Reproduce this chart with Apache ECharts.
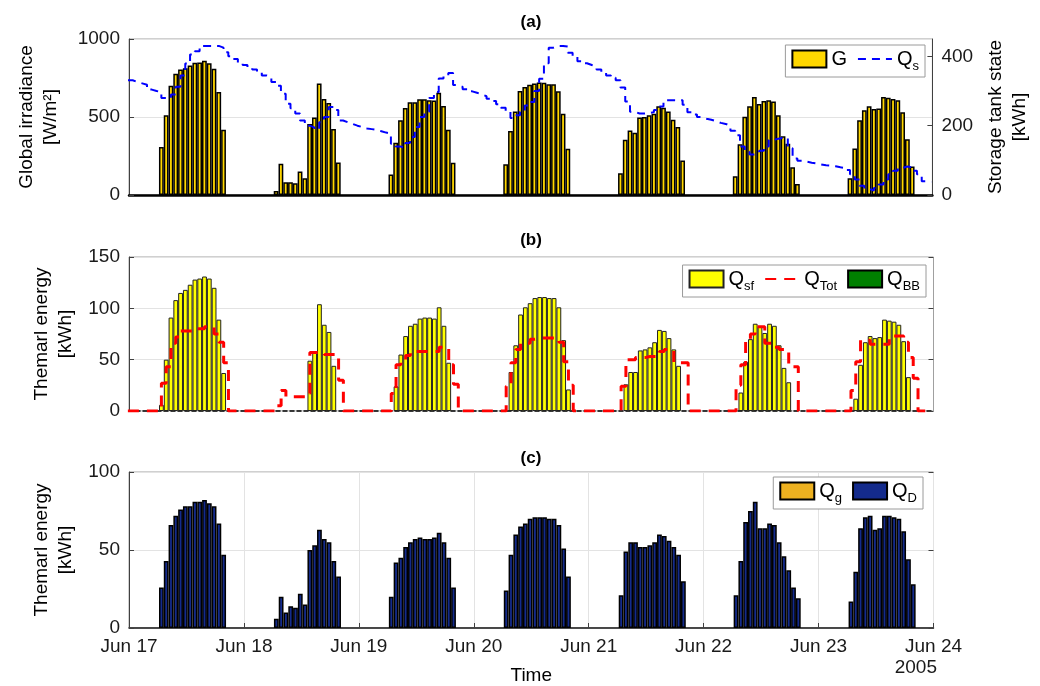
<!DOCTYPE html>
<html>
<head>
<meta charset="utf-8">
<script src="https://cdn.jsdelivr.net/npm/echarts@6/dist/echarts.min.js"></script>
<style>
  html, body { margin: 0; padding: 0; background: #fff; }
  #chart { width: 1040px; height: 686px; }
</style>
</head>
<body>
<div id="chart"></div>
<script>
// hourly values, one row per day (Jun 17 .. Jun 23), hours 0..23
// each value is stamped at hh:46
const dayLabels = ['Jun 17', 'Jun 18', 'Jun 19', 'Jun 20', 'Jun 21', 'Jun 22', 'Jun 23', 'Jun 24'];
const stampMinute = 46;

// (a) global irradiance G [W/m2]
const irradiance = [
  [0,0,0,0,0,0, 307,511,700,777,805,813,830,848,850,861,845,809,661,418, 0,0,0,0],
  [0,0,0,0,0,0, 26,200,82,82,75,150,107,455,496,715,616,590,423,208, 0,0,0,0],
  [0,0,0,0,0,0, 131,335,479,558,594,594,614,614,607,605,655,571,418,206, 0,0,0,0],
  [0,0,0,0,0,0, 197,410,536,667,693,706,715,721,719,710,710,665,521,296, 0,0,0,0],
  [0,0,0,0,0,0, 139,354,414,399,496,500,511,521,569,560,536,483,436,221, 0,0,0,0],
  [0,0,0,0,0,0, 120,326,502,569,629,584,603,607,599,511,376,328,178,71, 0,0,0,0],
  [0,0,0,0,0,0, 107,298,479,543,569,552,554,629,624,616,607,530,358,182, 0,0,0,0]
];

// (a) storage tank state Qs [kWh], stairs, first stamp Jun 16 23:46
const tankState = [
  331, 326, 322, 318, 304, 300, 298, 280, 278, 290,
  312, 345, 379, 405, 415, 430, 430, 430, 430, 425,
  412, 400, 392, 381, 375, 368, 362, 355, 345, 340,
  326, 315, 292, 263, 250, 235, 215, 200, 195, 189,
  210, 225, 254, 245, 215, 210, 205, 200, 196, 192,
  190, 188, 184, 180, 177, 148, 140, 136, 150, 167,
  196, 225, 240, 280, 297, 336, 345, 352, 317, 312,
  305, 299, 295, 290, 285, 278, 271, 262, 252, 240,
  222, 230, 240, 258, 268, 300, 335, 380, 425, 430,
  430, 428, 410, 400, 386, 380, 375, 370, 362, 352,
  345, 338, 331, 310, 270, 240, 235, 235, 236, 239,
  245, 255, 273, 273, 273, 273, 260, 239, 232, 225,
  220, 217, 213, 208, 205, 200, 185, 172, 140, 125,
  117, 120, 128, 140, 159, 162, 165, 165, 135, 105,
  99, 96, 93, 91, 88, 86, 85, 83, 80, 78,
  72, 60, 45, 27, 18, 13, 20, 30, 45, 60,
  70, 78, 82, 80, 70, 60, 40, 38, 37
];

// (b) solar field energy Qsf [kWh]
const solarField = [
  [0,0,0,0,0,0, 6,50,91,108,115,118,123,128,129,131,129,120,89,37, 0,0,0,0],
  [0,0,0,0,0,0, 0,0,0,0,0,0,0, 49,58,104,84,77,44, 0, 0,0,0,0],
  [0,0,0,0,0,0, 0, 24,55,73,83,85,90,91,91,90,101,83,47, 0, 0,0,0,0],
  [0,0,0,0,0,0, 0, 38,64,94,101,105,110,111,111,110,110,101,69,21, 0,0,0,0],
  [0,0,0,0,0,0, 0, 26,38,38,59,60,62,67,79,78,71,60,44, 0, 0,0,0,0],
  [0,0,0,0,0,0, 0, 18,48,70,85,82,76,85,83,64,42,28, 0,0, 0,0,0,0],
  [0,0,0,0,0,0, 0, 12,45,67,73,71,72,89,88,87,84,68,33, 0, 0,0,0,0]
];

// (b) total thermal energy QTot [kWh], stairs, first stamp Jun 16 23:46
const totalStart = [0];
const totalEnergy = [
  [0,0,0,0,0,0, 27,43,66,72,78,78,78,80,80,82,82,75,67,47, 0,0,0,0],
  [0,0,0,0,0,0, 5,20,14,14,14,14,17,57,57,57,55,55,55,30, 0,0,0,0],
  [0,0,0,0,0,0, 17,45,50,54,58,58,58,58,58,58,62,62,45,26, 0,0,0,0],
  [0,0,0,0,0,0, 24,47,60,66,66,70,71,71,71,71,71,67,48,25, 0,0,0,0],
  [0,0,0,0,0,0, 24,50,50,52,52,53,53,53,58,60,60,47,47,47, 0,0,0,0],
  [0,0,0,0,0,0, 25,45,69,75,82,82,66,66,62,60,58,43,43,0, 0,0,0,0],
  [0,0,0,0,0,0, 20,48,69,69,65,65,65,65,73,73,73,67,52,32, 0,0,0,0]
];

// (b) backup boiler QBB [kWh]
const backupBoiler = [
  [0,0,0,0,0,0,0,0,0,0,0,0,0,0,0,0,0,0,0,0,0,0,0,0],
  [0,0,0,0,0,0,0,0,0,0,0,0,0,0,0,0,0,0,0,0,0,0,0,0],
  [0,0,0,0,0,0,0,0,0,0,0,0,0,0,0,0,0,0,0,0,0,0,0,0],
  [0,0,0,0,0,0,0,0,0,0,0,0,0,0,0,0,0,0,0,0,0,0,0,0],
  [0,0,0,0,0,0,0,0,0,0,0,0,0,0,0,0,0,0,0,0,0,0,0,0],
  [0,0,0,0,0,0,0,0,0,0,0,0,0,0,0,0,0,0,0,0,0,0,0,0],
  [0,0,0,0,0,0,0,0,0,0,0,0,0,0,0,0,0,0,0,0,0,0,0,0]
];

// (c) gas Qg [kWh]
const gasEnergy = [
  [0,0,0,0,0,0,0,0,0,0,0,0,0,0,0,0,0,0,0,0,0,0,0,0],
  [0,0,0,0,0,0,0,0,0,0,0,0,0,0,0,0,0,0,0,0,0,0,0,0],
  [0,0,0,0,0,0,0,0,0,0,0,0,0,0,0,0,0,0,0,0,0,0,0,0],
  [0,0,0,0,0,0,0,0,0,0,0,0,0,0,0,0,0,0,0,0,0,0,0,0],
  [0,0,0,0,0,0,0,0,0,0,0,0,0,0,0,0,0,0,0,0,0,0,0,0],
  [0,0,0,0,0,0,0,0,0,0,0,0,0,0,0,0,0,0,0,0,0,0,0,0],
  [0,0,0,0,0,0,0,0,0,0,0,0,0,0,0,0,0,0,0,0,0,0,0,0]
];

// (c) demand QD [kWh]
const demand = [
  [0,0,0,0,0,0, 26,43,66,72,76,78,78,81,81,82,80,78,67,47, 0,0,0,0],
  [0,0,0,0,0,0, 6,20,10,14,13,22,15,50,53,63,57,55,43,33, 0,0,0,0],
  [0,0,0,0,0,0, 20,42,45,52,55,57,58,57,57,58,61,55,45,26, 0,0,0,0],
  [0,0,0,0,0,0, 24,47,60,65,67,70,71,71,71,70,70,66,51,33, 0,0,0,0],
  [0,0,0,0,0,0, 21,49,55,55,52,52,53,55,60,59,56,52,47,30, 0,0,0,0],
  [0,0,0,0,0,0, 21,43,68,75,81,64,64,67,66,55,46,37,26,19, 0,0,0,0],
  [0,0,0,0,0,0, 17,36,64,71,72,63,64,72,72,71,70,62,44,28, 0,0,0,0]
];

const font = 'Liberation Sans, Arial, Helvetica, sans-serif';
const ink = '#1a1a1a';

const flat = rows => [].concat(...rows);
// bars: hour h stamped at h:46, empty hours left out
const toBars = rows => flat(rows).map((v, h) => [h + stampMinute / 60, v === 0 ? '-' : v]);
// stairs lines: first value stamped one hour before Jun 17 00:46
const toSteps = values => values.map((v, k) => [k - 1 + stampMinute / 60, v]);

const legendNames = {
  G: '{m|G}', Qs: '{m|Q}{s|s}',
  Qsf: '{m|Q}{s|sf}', QTot: '{m|Q}{s|Tot}', QBB: '{m|Q}{s|BB}',
  Qg: '{m|Q}{s|g}', QD: '{m|Q}{s|D}'
};
const legendBase = {
  orient: 'horizontal',
  itemWidth: 34,
  itemHeight: 17,
  itemGap: 10,
  backgroundColor: '#fff',
  borderColor: '#9a9a9a',
  borderWidth: 1,
  borderRadius: 0,
  padding: [4, 6, 4, 6],
  formatter: name => legendNames[name],
  textStyle: {
    fontFamily: font,
    color: '#000',
    rich: {
      m: { fontFamily: font, fontSize: 20, lineHeight: 28, color: '#000' },
      s: { fontFamily: font, fontSize: 13, lineHeight: 13, verticalAlign: 'bottom', color: '#000' }
    }
  }
};
// line entries in the legend: dashed line only, no marker
const lineLegendItem = name => ({ name: name, itemStyle: { opacity: 0 } });

const gridBox = { left: 129, right: 106.5, show: true, borderColor: '#a0a0a0', borderWidth: 1 };
const plainNumber = v => String(v);

const makeX = (i, opts) => Object.assign({
  gridIndex: i,
  type: 'value',
  min: 0,
  max: 168,
  interval: 24,
  axisLine: { show: true, onZero: false, lineStyle: { color: ink, width: 1.5 } },
  axisTick: { show: false },
  axisLabel: { show: false },
  splitLine: { show: false }
}, opts);

const makeY = (i, opts) => Object.assign({
  gridIndex: i,
  type: 'value',
  min: 0,
  axisLine: { show: true, lineStyle: { color: '#404040', width: 1 } },
  axisTick: { show: true, inside: true, length: 5, lineStyle: { color: '#404040' } },
  axisLabel: { fontFamily: font, fontSize: 19, color: ink, margin: 9, formatter: plainNumber },
  splitLine: { show: true, lineStyle: { color: '#e3e3e3', width: 1 } },
  nameLocation: 'middle',
  nameRotate: 90,
  nameTextStyle: { fontFamily: font, fontSize: 19, color: '#000', lineHeight: 24 }
}, opts);

// right-hand box ticks without labels (panels b and c)
const boxTicks = (i, max) => ({
  gridIndex: i,
  type: 'value',
  min: 0,
  max: max,
  interval: 50,
  position: 'right',
  axisLine: { show: false },
  axisTick: { show: true, inside: true, length: 5, lineStyle: { color: '#404040' } },
  axisLabel: { show: false },
  splitLine: { show: false }
});

const chart = echarts.init(document.getElementById('chart'), null, { renderer: 'canvas' });

const option = {
  animation: false,
  backgroundColor: '#fff',
  textStyle: { fontFamily: font },
  grid: [
    Object.assign({ top: 39, height: 156 }, gridBox),
    Object.assign({ top: 257, height: 154 }, gridBox),
    Object.assign({ top: 472, height: 157 }, gridBox)
  ],
  xAxis: [
    makeX(0, { axisLine: { show: true, onZero: false, lineStyle: { color: '#000', width: 2.5 } } }),
    makeX(1, { axisLine: { show: true, onZero: false, lineStyle: { color: '#000', width: 1.5, type: [4, 3] } } }),
    makeX(2, {
      name: 'Time',
      nameLocation: 'middle',
      nameGap: 38,
      nameTextStyle: { fontFamily: font, fontSize: 19, color: '#000' },
      axisTick: { show: true, inside: true, length: 5, lineStyle: { color: '#404040' } },
      axisLabel: {
        show: true, fontFamily: font, fontSize: 19, color: ink, margin: 9,
        formatter: v => dayLabels[Math.round(v / 24)]
      },
      splitLine: { show: true, lineStyle: { color: '#e3e3e3', width: 1 } }
    })
  ],
  yAxis: [
    makeY(0, { max: 1000, interval: 500, name: 'Global irradiance\n[W/m²]', nameGap: 66 }),
    makeY(0, {
      max: 450, interval: 200, position: 'right',
      axisLabel: { fontFamily: font, fontSize: 19, color: ink, margin: 9, showMaxLabel: false, formatter: plainNumber },
      splitLine: { show: false },
      name: 'Storage tank state\n[kWh]', nameGap: 50
    }),
    makeY(1, { max: 150, interval: 50, name: 'Themarl energy\n[kWh]', nameGap: 50 }),
    makeY(2, { max: 100, interval: 50, name: 'Themarl energy\n[kWh]', nameGap: 50 }),
    boxTicks(1, 150),
    boxTicks(2, 100)
  ],
  legend: [
    Object.assign({}, legendBase, {
      right: 115, top: 45,
      data: [{ name: 'G', icon: 'rect' }, lineLegendItem('Qs')]
    }),
    Object.assign({}, legendBase, {
      right: 114, top: 265,
      data: [{ name: 'Qsf', icon: 'rect' }, lineLegendItem('QTot'), { name: 'QBB', icon: 'rect' }]
    }),
    Object.assign({}, legendBase, {
      right: 117, top: 477,
      data: [{ name: 'Qg', icon: 'rect' }, { name: 'QD', icon: 'rect' }]
    })
  ],
  graphic: [
    { type: 'text', x: 531, y: 22, style: { text: '(a)', font: 'bold 17px ' + font, fill: '#000', align: 'center', verticalAlign: 'middle' } },
    { type: 'text', x: 531, y: 240, style: { text: '(b)', font: 'bold 17px ' + font, fill: '#000', align: 'center', verticalAlign: 'middle' } },
    { type: 'text', x: 531, y: 458, style: { text: '(c)', font: 'bold 17px ' + font, fill: '#000', align: 'center', verticalAlign: 'middle' } },
    { type: 'text', x: 937, y: 668, style: { text: '2005', font: '19px ' + font, fill: ink, align: 'right', verticalAlign: 'middle' } }
  ],
  series: [
    {
      name: 'G', type: 'bar', xAxisIndex: 0, yAxisIndex: 0,
      barWidth: 4.79, barGap: '-100%',
      itemStyle: { color: '#FFD700', borderColor: '#000', borderWidth: 1.5 },
      data: toBars(irradiance)
    },
    {
      name: 'Qs', type: 'line', xAxisIndex: 0, yAxisIndex: 1,
      step: 'end', symbol: 'none', clip: true,
      lineStyle: { color: '#0000FF', width: 2, type: [8, 6] },
      itemStyle: { color: '#0000FF' },
      data: toSteps(tankState)
    },
    {
      name: 'Qsf', type: 'bar', xAxisIndex: 1, yAxisIndex: 2,
      barWidth: 4.79, barGap: '-100%',
      itemStyle: { color: '#FFFF00', borderColor: '#222', borderWidth: 1 },
      data: toBars(solarField)
    },
    {
      name: 'QTot', type: 'line', xAxisIndex: 1, yAxisIndex: 2,
      step: 'end', symbol: 'none', clip: true, z: 3,
      lineStyle: { color: '#FF0000', width: 3, type: [11, 8] },
      itemStyle: { color: '#FF0000' },
      data: toSteps(totalStart.concat(flat(totalEnergy)))
    },
    {
      name: 'QBB', type: 'bar', xAxisIndex: 1, yAxisIndex: 2,
      barWidth: 4.79, barGap: '-100%',
      itemStyle: { color: '#008000', borderColor: '#000', borderWidth: 1.5 },
      data: toBars(backupBoiler)
    },
    {
      name: 'Qg', type: 'bar', xAxisIndex: 2, yAxisIndex: 3,
      barWidth: 4.79, barGap: '-100%',
      itemStyle: { color: '#EDB120', borderColor: '#000', borderWidth: 1.5 },
      data: toBars(gasEnergy)
    },
    {
      name: 'QD', type: 'bar', xAxisIndex: 2, yAxisIndex: 3,
      barWidth: 4.79, barGap: '-100%',
      itemStyle: { color: '#142B8C', borderColor: '#000', borderWidth: 1.5 },
      data: toBars(demand)
    }
  ]
};

chart.setOption(option);
</script>
</body>
</html>
